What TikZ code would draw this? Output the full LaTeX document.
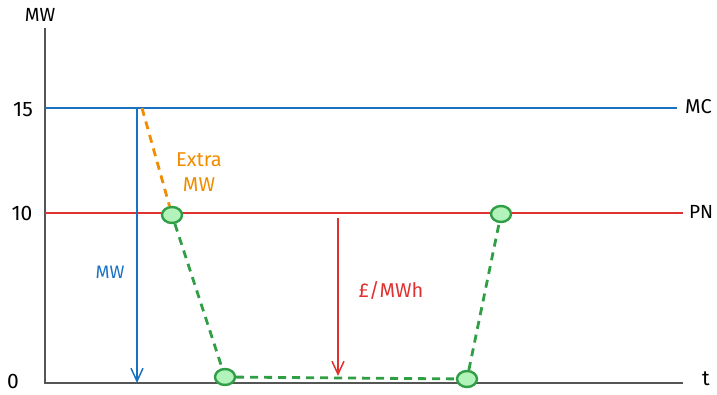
\documentclass[tikz,border=0pt]{standalone}
\usepackage{fontspec}
\setmainfont{Fira Sans}
\usetikzlibrary{arrows.meta,shapes.geometric}

\definecolor{mcblue}{HTML}{1971C2}
\definecolor{pnred}{HTML}{E03131}
\definecolor{extraorange}{HTML}{F08C00}
\definecolor{pathgreen}{HTML}{2F9E44}
\definecolor{dotfill}{HTML}{B2F2BB}
\definecolor{axisgray}{HTML}{555555}

\tikzset{
    axisline/.style={draw=axisgray, line width=1.8pt},
    lbl/.style={font=\fontsize{21}{24}\selectfont, text=black, inner sep=1pt},
    vtip/.style={-{Straight Barb[length=13pt, width=12pt, line width=1.5pt]}},
    dot/.style={ellipse, draw=pathgreen, fill=dotfill, line width=2.4pt,
        minimum width=20pt, minimum height=16pt, inner sep=0pt},
    greendash/.style={draw=pathgreen, line width=2.8pt, dash pattern=on 8pt off 6pt}
}

\begin{document}
\begin{tikzpicture}[x=1pt, y=-1pt]
        \useasboundingbox (0,0) rectangle (717,395);

        % Axes
        \coordinate (ytop) at (45,28);
        \coordinate (origin) at (45,383);
        \coordinate (xend) at (683,383);
        \draw[axisline] (ytop) -- (origin) -- (xend);
        \node[lbl, font=\fontsize{19}{21}\selectfont] (ylab) at (40,15) {MW};
        \node[lbl] (tlab) at (706,379) {t};
        \node[lbl] (l15) at (23,110) {15};
        \node[lbl] (l10) at (22,213) {10};
        \node[lbl] (l0) at (13,381) {0};

        % MC level
        \coordinate (mcstart) at (45,108);
        \coordinate (mcend) at (677,108);
        \draw[mcblue, line width=2.4pt] (mcstart) -- (mcend);
        \node[lbl, anchor=west, font=\fontsize{20}{22}\selectfont] (mc) at (684,107) {MC};

        % PN level
        \coordinate (pnstart) at (45,213);
        \coordinate (pnend) at (683,213);
        \draw[pnred, line width=2pt] (pnstart) -- (pnend);
        \node[lbl, anchor=west, font=\fontsize{19}{21}\selectfont] (pn) at (688,212) {PN};

        % MW arrow
        \coordinate (mwtop) at (137,108);
        \coordinate (mwbot) at (137,383);
        \draw[mcblue, line width=1.6pt, vtip] (mwtop) -- (mwbot);
        \node[lbl, text=mcblue, font=\fontsize{18}{20}\selectfont] (mwlab) at (110,272) {MW};

        % Green points
        \node[dot] (p1) at (172,215) {};
        \node[dot] (p2) at (225,377) {};
        \node[dot] (p3) at (467,379) {};
        \node[dot] (p4) at (501,214) {};

        % Extra MW
        \coordinate (xtop) at (142,108);
        \draw[extraorange, line width=2.8pt, dash pattern=on 8pt off 6pt] (xtop) -- (p1);
        \node[lbl, text=extraorange, align=center, font=\fontsize{20}{25}\selectfont] (extra) at (199,172) {Extra\\MW};

        % Green path
        \draw[greendash] (p1) -- (p2) -- (p3) -- (p4);

        % Price arrow
        \coordinate (pmtop) at (338,218);
        \coordinate (pmbot) at (338,376);
        \draw[pnred, line width=1.6pt, vtip] (pmtop) -- (pmbot);
        \node[lbl, text=pnred, font=\fontsize{20}{22}\selectfont] (pmlab) at (391,290) {£/MWh};
    \end{tikzpicture}
\end{document}
